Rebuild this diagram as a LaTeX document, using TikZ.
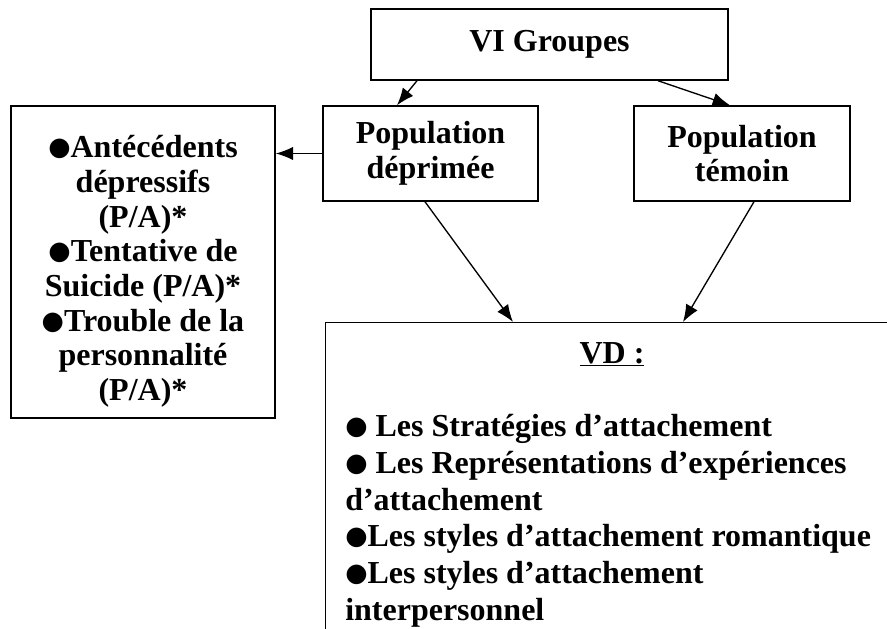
\documentclass[tikz,border=0pt]{standalone}
\usepackage{fontspec}
\setmainfont{Liberation Serif}
\newfontfamily\dejavu{DejaVu Sans}
\usepackage{tikz}
\usetikzlibrary{arrows.meta,calc}

\newcommand{\blt}{{\dejavu\raisebox{1.5pt}{\scalebox{0.8}{●}}}}

\begin{document}
\begin{tikzpicture}[x=0.75pt, y=-0.75pt,
        box/.style={draw, line width=1.1pt, align=center, inner sep=0pt,
            font=\bfseries\fontsize{24}{26}\selectfont},
        arr/.style={line width=1pt, -{Latex[length=13pt,width=10pt]}}]
        \path[use as bounding box, clip] (0,0) rectangle (887,628);

        \node[box, minimum width=267.75pt, minimum height=53.25pt] (grp) at (549.5,44.5) {VI Groupes};
        \node[box, minimum width=161.25pt, minimum height=71.25pt] (dep) at (430.5,153.5) {Population\\déprimée};
        \node[box, minimum width=162pt, minimum height=71.25pt] (tem) at (742,153.5) {Population\\témoin};
        \node[box, minimum width=198pt, minimum height=234pt] (antec) at (143,262)
            {\rule{0pt}{31pt}\blt Antécédents\\dépressifs\\(P/A)*\\\blt Tentative de\\Suicide (P/A)*\\\blt Trouble de la\\personnalité\\(P/A)*};
        \node[box, anchor=north west, minimum width=431.25pt, minimum height=247.5pt] (vd) at (325,322) {};

        \node[font=\bfseries\fontsize{24}{26}\selectfont, anchor=base, inner sep=0pt] (vdtitle)
            at ($(vd.north west)+(287,41)$) {\underline{VD :}};
        \node[font=\bfseries\fontsize{24}{27.5}\selectfont, align=left, anchor=base west, inner sep=0pt] (vdlist)
            at ($(vd.north west)+(20,298)$)
            {\blt{} Les Stratégies d’attachement\\\blt{} Les Représentations d’expériences\\d’attachement\\\blt Les styles d’attachement romantique\\\blt Les styles d’attachement\\interpersonnel};

        \draw[arr] ($(grp.south)+(-132.5,0)$) -- ($(dep.north)+(-33.5,0)$);
        \draw[arr] ($(grp.south)+(108.5,0)$) -- ($(tem.north)+(-12,0)$);
        \draw[arr] (dep.west) -- (dep.west -| antec.east);
        \draw[arr] ($(dep.south)+(-5.5,0)$) -- ($(vd.north west)+(188,0)$);
        \draw[arr] ($(tem.south)+(12,0)$) -- ($(vd.north west)+(358,0)$);
    \end{tikzpicture}
\end{document}
